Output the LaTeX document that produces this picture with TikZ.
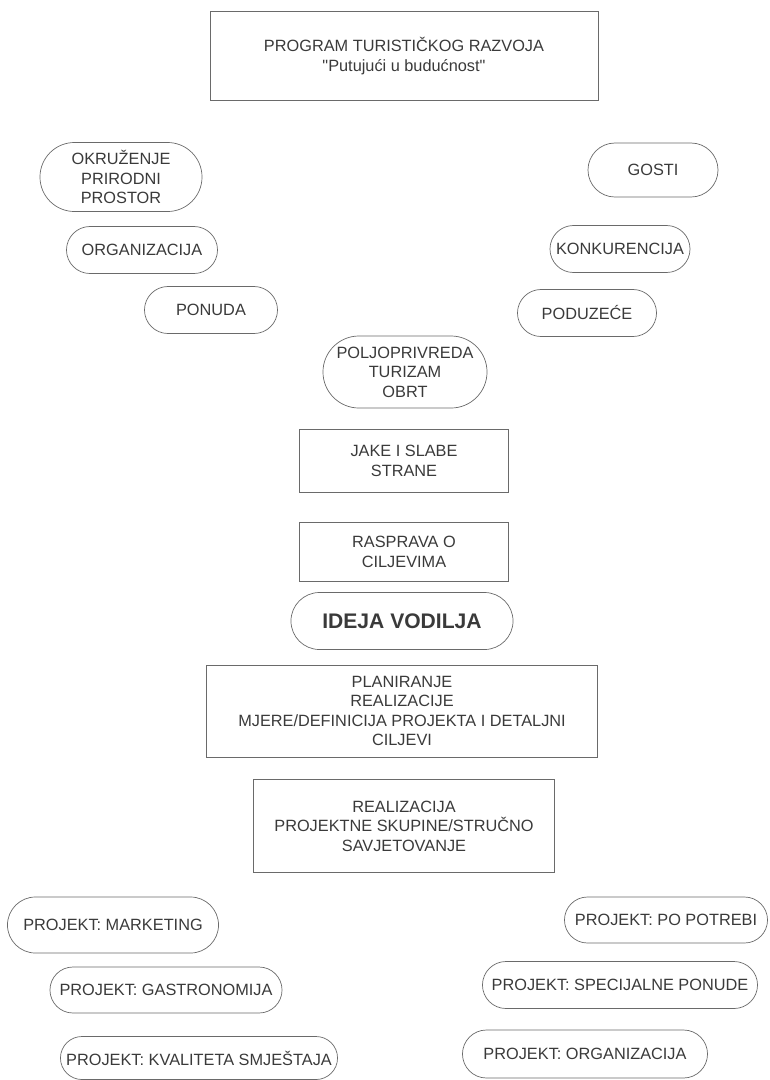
\documentclass[tikz,border=0pt]{standalone}
\usepackage{fontspec}
\setmainfont{Liberation Sans}[Ligatures=TeXOff]
\usetikzlibrary{shapes,positioning}
\definecolor{inkgrey}{HTML}{3A3A3A}
\definecolor{edgegrey}{HTML}{6A6A6A}

\begin{document}
\begin{tikzpicture}[x=0.025cm, y=-0.025cm,
        font=\fontsize{11.6}{13.8}\selectfont, text=inkgrey,
        plan box/.style={rectangle, draw=edgegrey, line width=0.5pt, align=center, inner sep=0pt},
        topic pill/.style={rounded rectangle, draw=edgegrey, line width=0.5pt, align=center, inner sep=0pt, minimum height=1.175cm}]

    \useasboundingbox (0,0) rectangle (770,1080);

    % programme and analysis
    \node [plan box, minimum width=9.7cm, minimum height=2.225cm] (program) at (404,56) {PROGRAM TURISTIČKOG RAZVOJA\\"Putujući u budućnost"};

    \node [topic pill, minimum width=4.05cm, minimum height=1.725cm] (okruzenje) at (121,177) {OKRUŽENJE\\PRIRODNI\\PROSTOR};
    \node [topic pill, minimum width=3.775cm] (organizacija) at (142,250) {ORGANIZACIJA};
    \node [topic pill, minimum width=3.325cm] (ponuda) at (211,310) {PONUDA};

    \node [topic pill, minimum width=3.25cm, minimum height=1.35cm] (gosti) at (653,170) {GOSTI};
    \node [topic pill, minimum width=3.5cm] (konkurencija) at (620,249) {KONKURENCIJA};
    \node [topic pill, minimum width=3.475cm] (poduzece) at (587,313) {PODUZEĆE};

    \node [topic pill, minimum width=4.1cm, minimum height=1.8cm] (grane) at (405,372) {POLJOPRIVREDA\\TURIZAM\\OBRT};

    % middle column
    \node [plan box, minimum width=5.225cm, minimum height=1.575cm] (jake) at (404,461) {JAKE I SLABE\\STRANE};
    \node [plan box, minimum width=5.225cm, minimum height=1.475cm] (rasprava) at (404,552) {RASPRAVA O\\CILJEVIMA};
    \node [topic pill, minimum width=5.55cm, minimum height=1.425cm, font=\fontsize{15}{18}\selectfont\bfseries] (ideja) at (402,621) {IDEJA VODILJA};
    \node [plan box, minimum width=9.775cm, minimum height=2.3cm] (planiranje) at (402,711) {PLANIRANJE\\REALIZACIJE\\MJERE/DEFINICIJA PROJEKTA I DETALJNI\\CILJEVI};
    \node [plan box, minimum width=7.525cm, minimum height=2.325cm] (realizacija) at (404,826) {REALIZACIJA\\PROJEKTNE SKUPINE/STRUČNO\\SAVJETOVANJE};

    % projects
    \node [topic pill, minimum width=5.275cm, minimum height=1.4cm] (marketing) at (113,925) {PROJEKT: MARKETING};
    \node [topic pill, minimum width=5.8cm, minimum height=1.15cm] (gastro) at (166,990) {PROJEKT: GASTRONOMIJA};
    \node [topic pill, minimum width=6.925cm, minimum height=1.075cm] (kvaliteta) at (199,1058) {PROJEKT: KVALITETA SMJEŠTAJA};

    \node [topic pill, minimum width=5.075cm, minimum height=1.15cm] (potreba) at (666,920) {PROJEKT: PO POTREBI};
    \node [topic pill, minimum width=6.875cm] (specijalne) at (620,985) {PROJEKT: SPECIJALNE PONUDE};
    \node [topic pill, minimum width=6.125cm, minimum height=1.2cm] (projorg) at (585,1054) {PROJEKT: ORGANIZACIJA};
\end{tikzpicture}
\end{document}
